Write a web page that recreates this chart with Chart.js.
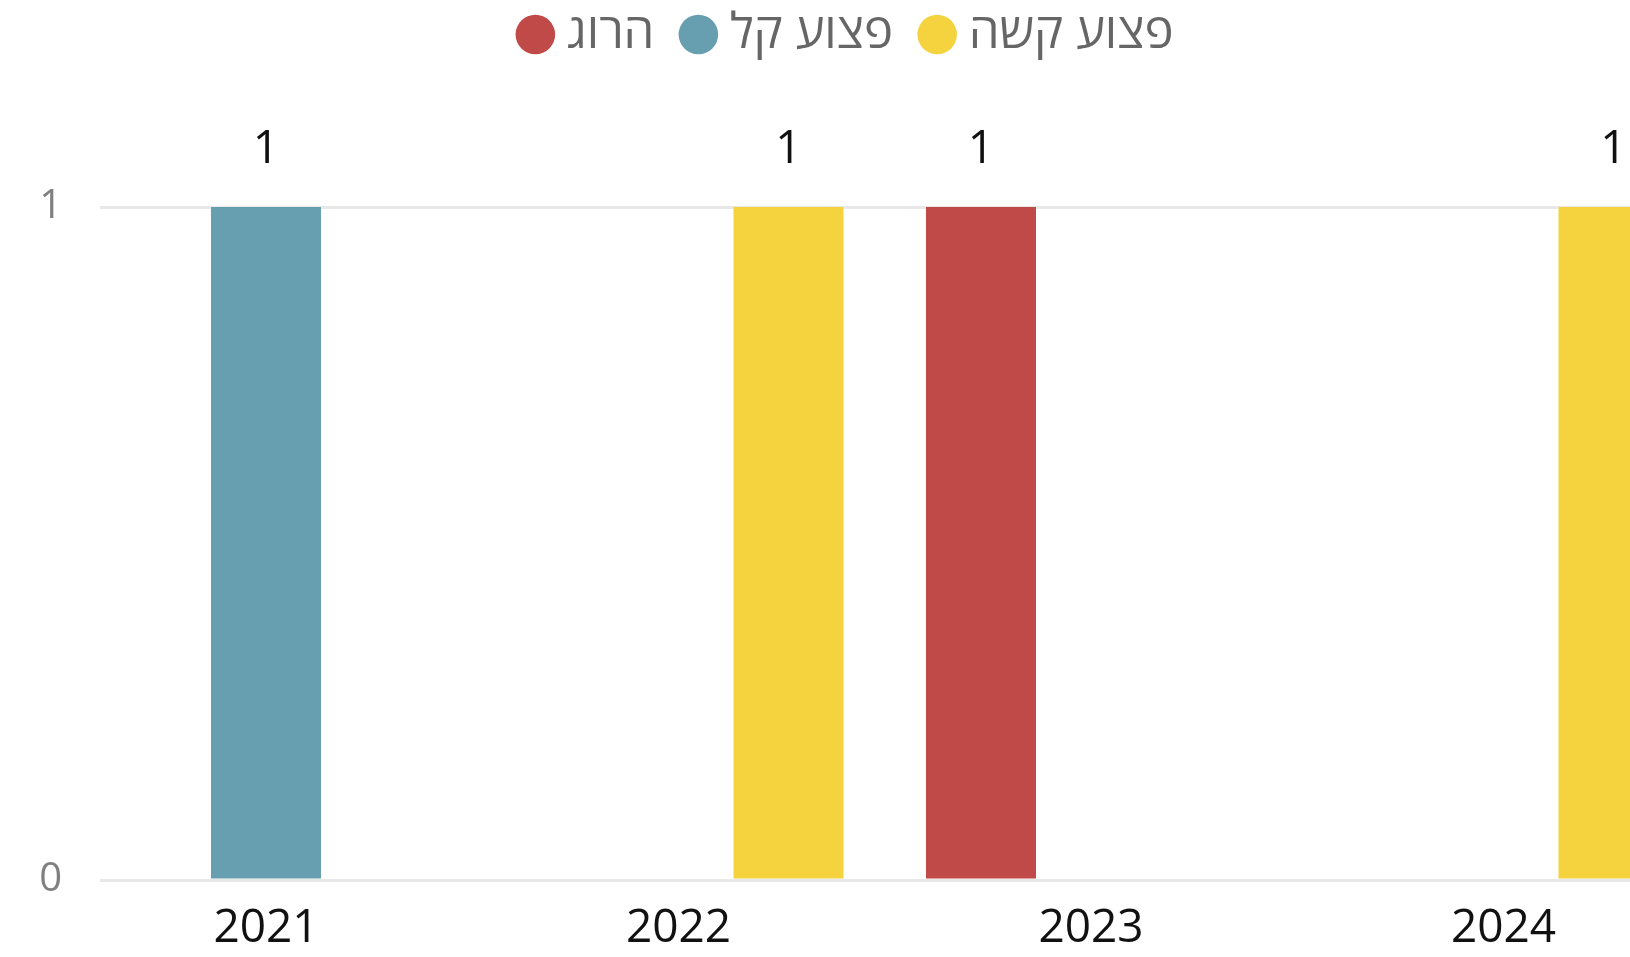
<!DOCTYPE html>
<html><head><meta charset="utf-8">
<script src="https://cdn.jsdelivr.net/npm/chart.js@4.4.0/dist/chart.umd.min.js"></script>
<style>html,body{margin:0;padding:0;background:#fff;overflow:hidden}#wrap{width:1630px;height:957px;position:relative}</style>
</head><body><div id="wrap"><canvas id="c"></canvas></div>
<script>
const years = ['2021', '2022', '2023', '2024'];
const seriesNames = ['הרוג', 'פצוע קל', 'פצוע קשה'];
const killed = [0, 0, 1, 0];
const lightlyInjured = [1, 0, 0, 0];
const seriouslyInjured = [0, 1, 0, 1];
const yTickValues = [0, 1];
const seriesColors = ['#BF4A47', '#679FB0', '#F4D33F'];

const FONT = "'Open Sans', 'DejaVu Sans', sans-serif";
const seriesValues = [killed, lightlyInjured, seriouslyInjured];

const datasets = seriesValues.map((vals, s) => ({
  label: seriesNames[s],
  data: vals.map((v, i) => ({ x: i, y: v })),
  backgroundColor: seriesColors[s],
  borderWidth: 0,
  categoryPercentage: 0.8,
  barPercentage: 1.0
}));

const legendFit = {
  id: 'legendFit',
  beforeInit(chart) {
    const orig = chart.legend.fit;
    chart.legend.fit = function () { orig.bind(this)(); this.height = 207; };
  },
  afterLayout(chart) {
    const lg = chart.legend;
    lg.top -= 27; lg.bottom -= 27;
    lg.left += 36; lg.right += 36;
  }
};

const valueLabels = {
  id: 'valueLabels',
  afterDatasetsDraw(chart) {
    const ctx = chart.ctx;
    ctx.save();
    ctx.font = "46px " + FONT;
    ctx.fillStyle = '#111';
    ctx.textAlign = 'center';
    ctx.textBaseline = 'middle';
    chart.data.datasets.forEach((ds, di) => {
      const meta = chart.getDatasetMeta(di);
      meta.data.forEach((el, i) => {
        const v = ds.data[i].y;
        if (v > 0) ctx.fillText(String(v), el.x, el.y - 57);
      });
    });
    ctx.restore();
  }
};

new Chart(document.getElementById('c'), {
  type: 'bar',
  data: { datasets },
  options: {
    responsive: true,
    maintainAspectRatio: false,
    animation: false,
    layout: { padding: 0 },
    plugins: {
      tooltip: { enabled: false },
      legend: {
        position: 'top',
        labels: {
          usePointStyle: true,
          pointStyle: 'circle',
          boxWidth: 14,
          boxHeight: 28,
          padding: 37,
          color: '#666',
          font: { family: FONT, size: 49 }
        }
      }
    },
    scales: {
      x: {
        type: 'linear',
        min: -0.4024,
        max: 3.3067,
        offset: false,
        grid: { display: false, offset: false },
        border: { display: false },
        afterFit(scale) { scale.height = 77; },
        ticks: {
          stepSize: 1,
          includeBounds: false,
          autoSkip: false,
          maxRotation: 0,
          padding: 13,
          color: '#111',
          font: { family: FONT, size: 46 },
          callback: (v) => Number.isInteger(v) && years[v] ? years[v] : ''
        }
      },
      y: {
        min: 0,
        max: 1,
        afterFit(scale) { scale.width = 100; },
        afterBuildTicks(scale) { scale.ticks = yTickValues.map(v => ({ value: v })); },
        grid: { color: '#e8e8e8', lineWidth: 3, drawTicks: false },
        border: { display: false },
        ticks: {
          stepSize: 1,
          crossAlign: 'center',
          padding: 38,
          color: '#808080',
          font: { family: FONT, size: 40 }
        }
      }
    }
  },
  plugins: [legendFit, valueLabels]
});
</script></body></html>
